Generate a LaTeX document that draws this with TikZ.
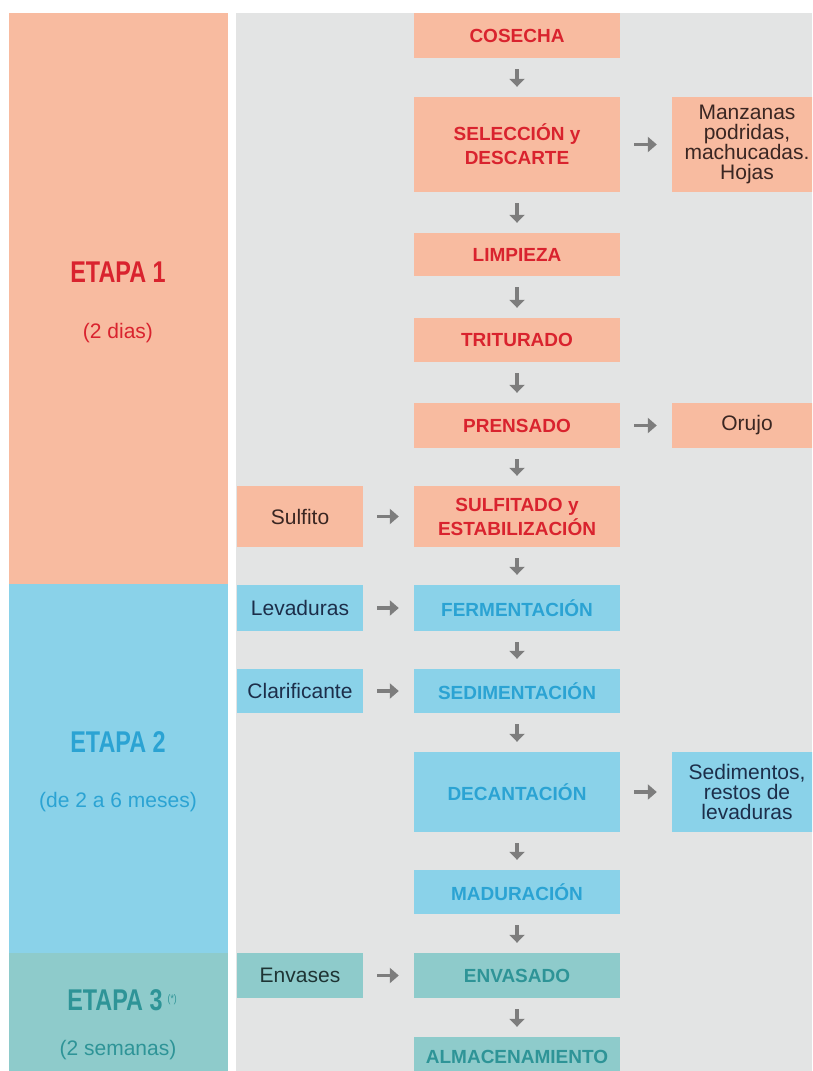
\documentclass[tikz,border=0pt]{standalone}
\usepackage{fontspec}
\setmainfont{Liberation Sans}
\newfontfamily\etapafont[FakeStretch=0.78]{Liberation Sans}
\usetikzlibrary{arrows.meta}

\definecolor{salmon}{HTML}{F8BBA0}
\definecolor{celeste}{HTML}{8AD2E9}
\definecolor{verdeagua}{HTML}{8ECBCB}
\definecolor{fondo}{HTML}{E3E4E4}
\definecolor{rojo}{HTML}{D9232E}
\definecolor{azul}{HTML}{2BA3D3}
\definecolor{verdeosc}{HTML}{2E9497}
\definecolor{flecha}{HTML}{7D7D7D}
\definecolor{marron}{HTML}{3A2622}
\definecolor{marino}{HTML}{1C2E4A}
\definecolor{petroleo}{HTML}{1E3434}

\tikzset{
	paso/.style={inner sep=0pt, minimum width=206pt, align=center, font=\fontsize{19}{24}\selectfont\bfseries},
	insumo/.style={inner sep=0pt, minimum width=126pt, align=center, font=\fontsize{21}{20}\selectfont},
	residuo/.style={inner sep=0pt, minimum width=150pt, align=center, font=\fontsize{21}{20}\selectfont},
	etapa/.style={inner sep=0pt, font=\fontsize{30}{30}\etapafont\bfseries},
	duracion/.style={inner sep=0pt, font=\fontsize{21}{21}\selectfont},
	vflecha/.style={line width=3.5pt, color=flecha, -{Triangle[length=8pt,width=15pt]}, shorten <=11pt, shorten >=10pt},
	hflecha/.style={line width=3.5pt, color=flecha, -{Triangle[length=9pt,width=15pt]}, shorten <=14pt, shorten >=15pt}
}

\begin{document}
\begin{tikzpicture}[x=1pt, y=-1pt]
			%%%%% START %%%%%
			\clip (0, 0) rectangle (812, 1071);
			\fill[white] (0, 0) rectangle (812, 1071);
			
			% fondo y columna de etapas
			\fill[fondo] (236, 13) rectangle (812, 1071);
			\fill[salmon] (9, 13) rectangle (228, 584);
			\fill[celeste] (9, 584) rectangle (228, 953);
			\fill[verdeagua] (9, 953) rectangle (228, 1071);
			
			\node[etapa, text=rojo] (etapauno) at (118, 272) {ETAPA 1};
			\node[duracion, text=rojo] (durauno) at (118, 333) {(2 dias)};
			\node[etapa, text=azul] (etapados) at (118, 742) {ETAPA 2};
			\node[duracion, text=azul] (duraados) at (118, 802) {(de 2 a 6 meses)};
			\node[etapa, text=verdeosc] (etapatres) at (122, 1000) {ETAPA 3\,\raisebox{8pt}{\fontsize{11}{11}\selectfont\mdseries(*)}};
			\node[duracion, text=verdeosc] (duratres) at (118, 1050) {(2 semanas)};
			
			% etapa 1
			\node[paso, fill=salmon, text=rojo, minimum height=45pt] (cosecha) at (517, 35.5) {COSECHA};
			\node[paso, fill=salmon, text=rojo, minimum height=95pt] (seleccion) at (517, 144.5) {SELECCIÓN y\\DESCARTE};
			\node[paso, fill=salmon, text=rojo, minimum height=43pt] (limpieza) at (517, 254.5) {LIMPIEZA};
			\node[paso, fill=salmon, text=rojo, minimum height=44pt] (triturado) at (517, 340) {TRITURADO};
			\node[paso, fill=salmon, text=rojo, minimum height=45pt] (prensado) at (517, 425.5) {PRENSADO};
			\node[paso, fill=salmon, text=rojo, minimum height=61pt] (sulfitado) at (517, 516.5) {SULFITADO y\\ESTABILIZACIÓN};
			
			\node[residuo, fill=salmon, text=marron, minimum height=95pt] (manzanas) at (747, 144.5) {Manzanas\\podridas,\\machucadas.\\Hojas};
			\node[residuo, fill=salmon, text=marron, minimum height=45pt] (orujo) at (747, 425.5) {Orujo};
			\node[insumo, fill=salmon, text=marron, minimum height=61pt] (sulfito) at (300, 516.5) {Sulfito};
			
			% etapa 2
			\node[paso, fill=celeste, text=azul, minimum height=46pt] (fermentacion) at (517, 608) {FERMENTACIÓN};
			\node[paso, fill=celeste, text=azul, minimum height=44pt] (sedimentacion) at (517, 691) {SEDIMENTACIÓN};
			\node[paso, fill=celeste, text=azul, minimum height=80pt] (decantacion) at (517, 792) {DECANTACIÓN};
			\node[paso, fill=celeste, text=azul, minimum height=44pt] (maduracion) at (517, 892) {MADURACIÓN};
			
			\node[insumo, fill=celeste, text=marino, minimum height=46pt] (levaduras) at (300, 608) {Levaduras};
			\node[insumo, fill=celeste, text=marino, minimum height=44pt] (clarificante) at (300, 691) {Clarificante};
			\node[residuo, fill=celeste, text=marino, minimum height=80pt] (sedimentos) at (747, 792) {Sedimentos,\\restos de\\levaduras};
			
			% etapa 3
			\node[paso, fill=verdeagua, text=verdeosc, minimum height=45pt] (envasado) at (517, 975.5) {ENVASADO};
			\node[paso, fill=verdeagua, text=verdeosc, minimum height=40pt] (almacenamiento) at (517, 1057) {ALMACENAMIENTO};
			\node[insumo, fill=verdeagua, text=petroleo, minimum height=45pt] (envases) at (300, 975.5) {Envases};
			
			% flechas
			\draw[vflecha] (cosecha) -- (seleccion);
			\draw[vflecha] (seleccion) -- (limpieza);
			\draw[vflecha] (limpieza) -- (triturado);
			\draw[vflecha] (triturado) -- (prensado);
			\draw[vflecha] (prensado) -- (sulfitado);
			\draw[vflecha] (sulfitado) -- (fermentacion);
			\draw[vflecha] (fermentacion) -- (sedimentacion);
			\draw[vflecha] (sedimentacion) -- (decantacion);
			\draw[vflecha] (decantacion) -- (maduracion);
			\draw[vflecha] (maduracion) -- (envasado);
			\draw[vflecha] (envasado) -- (almacenamiento);
			
			\draw[hflecha] (seleccion) -- (manzanas);
			\draw[hflecha] (prensado) -- (orujo);
			\draw[hflecha] (decantacion) -- (sedimentos);
			\draw[hflecha] (sulfito) -- (sulfitado);
			\draw[hflecha] (levaduras) -- (fermentacion);
			\draw[hflecha] (clarificante) -- (sedimentacion);
			\draw[hflecha] (envases) -- (envasado);
			%%%%% END %%%%%
\end{tikzpicture}
\end{document}
